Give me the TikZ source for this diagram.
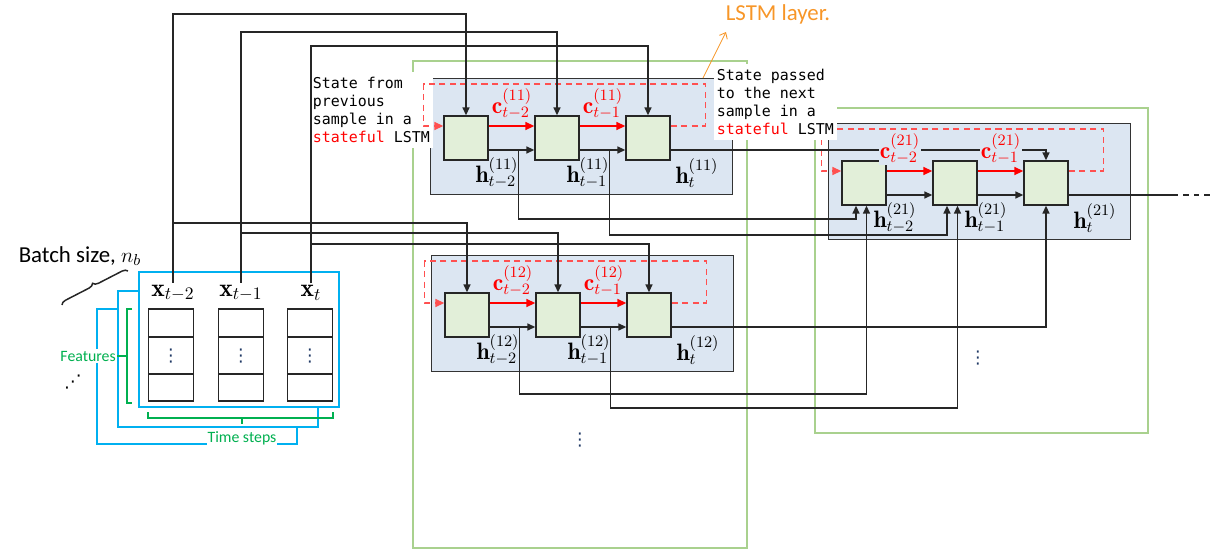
\documentclass[tikz,border=0pt]{standalone}
\usepackage{fontspec}
\setmonofont{DejaVu Sans Mono}
\newfontfamily\calib{Carlito}
\newfontfamily\symfnt{DejaVu Sans}
\usepackage{tikz}
\usetikzlibrary{arrows.meta, positioning, decorations.pathreplacing}

\definecolor{cellgreen}{RGB}{226,239,217}
\definecolor{blockblue}{RGB}{220,230,242}
\definecolor{layergreen}{RGB}{169,209,142}
\definecolor{tensorblue}{RGB}{0,176,240}
\definecolor{dimgreen}{RGB}{0,176,80}
\definecolor{statered}{RGB}{255,0,0}
\definecolor{loopred}{RGB}{255,80,80}
\definecolor{layerorange}{RGB}{247,150,40}
\definecolor{dotblue}{RGB}{31,56,100}

\tikzset{
  wire/.style={draw=black!85, line width=0.85pt},
  wirearr/.style={wire, -{Triangle[length=4.5pt,width=4pt]}},
  cstate/.style={draw=statered, line width=0.95pt, -{Triangle[length=5pt,width=4.5pt]}},
  cloop/.style={draw=loopred, line width=0.85pt, dash pattern=on 3.5pt off 2.5pt,
    -{Triangle[length=5pt,width=4.5pt]}},
  cell/.style={draw=black!85, fill=cellgreen, line width=0.85pt,
    minimum width=0.88cm, minimum height=0.88cm, inner sep=0pt},
  blockbox/.style={draw=black!80, fill=blockblue, line width=0.85pt,
    minimum width=6.04cm, minimum height=2.32cm, inner sep=0pt, anchor=north west},
  layerframe/.style={draw=layergreen, line width=0.9pt},
  tensor/.style={draw=tensorblue, line width=0.8pt},
  dimbrk/.style={draw=dimgreen, line width=0.8pt},
  dimlbl/.style={font=\calib\fontsize{9}{11}\selectfont, text=dimgreen, fill=white,
    inner xsep=0.5pt, inner ysep=1pt},
  featcol/.style={draw=black!85, line width=0.85pt, minimum width=0.9cm,
    minimum height=1.84cm, inner sep=0pt},
  statebox/.style={fill=white, align=left, anchor=west, inner xsep=1.5pt, inner ysep=2.5pt,
    font=\ttfamily\fontsize{8.5}{10.4}\selectfont},
  hlbl/.style={font=\fontsize{13.5}{15}\selectfont, inner sep=0pt},
  clbl/.style={font=\fontsize{13.5}{15}\selectfont, text=statered, fill=blockblue, inner sep=0.5pt},
  xlbl/.style={font=\fontsize{14.5}{16}\selectfont, inner sep=1pt},
  moredots/.style={font=\symfnt\fontsize{10}{12}\selectfont, text=dotblue, inner sep=0pt},
  biglbl/.style={font=\calib\fontsize{13}{15}\selectfont, inner sep=1pt}
}

\begin{document}
\begin{tikzpicture}[x=0.02cm, y=-0.02cm]
\useasboundingbox (0,0) rectangle (1215,551);
\def\blocklist{11/430/78/0, 12/431/255/0, 21/828/123/-10}

% LSTM layer frames
\draw[layerframe] (413,61) rectangle (747,548);
\draw[layerframe] (815,108) rectangle (1148,433);

% blue box of each LSTM
\foreach \nm/\bx/\by/\cs in \blocklist{
  \node[blockbox] (b\nm) at (\bx,\by) {};
}

\node[statebox] (stfrom) at (310,110)
  {State from\\previous\\sample in a\\\textcolor{statered}{stateful} LSTM};

% cells, states and stateful loop
\foreach \nm/\bx/\by/\cs in \blocklist{
  \foreach \i/\dx in {1/36, 2/127, 3/218}
    \node[cell] (b\nm c\i) at (\bx+\dx,\by+60) {};
  \draw[cstate] ([yshift=2.4mm]b\nm c1.east) -- ([yshift=2.4mm]b\nm c2.west);
  \draw[cstate] ([yshift=2.4mm]b\nm c2.east) -- ([yshift=2.4mm]b\nm c3.west);
  \draw[wirearr] ([yshift=-2.4mm]b\nm c1.east) -- ([yshift=-2.4mm]b\nm c2.west);
  \draw[wirearr] ([yshift=-2.4mm]b\nm c2.east) -- ([yshift=-2.4mm]b\nm c3.west);
  \draw[cloop] ([yshift=2.4mm]b\nm c3.east) -- ++(35,0) -- ++(0,-42) -- ++(-282,0)
    -- ++(0,42) -- ([yshift=2.4mm]b\nm c1.west);
  \node[hlbl] (h\nm a) at (\bx+67,\by+95) {$\mathbf{h}^{(\nm)}_{t-2}$};
  \node[hlbl] (h\nm b) at (\bx+158,\by+95) {$\mathbf{h}^{(\nm)}_{t-1}$};
  \node[hlbl] (h\nm c) at (\bx+267,\by+95) {$\mathbf{h}^{(\nm)}_{t}$};
}

\node[statebox] (stpass) at (714,102)
  {State passed\\to the next\\sample in a\\\textcolor{statered}{stateful} LSTM};

% input batch
\draw[tensor] (118,309) -- (97,309) -- (97,444) -- (297,444) -- (297,427);
\draw[tensor] (139,291) -- (118,291) -- (118,427) -- (318,427) -- (318,407);
\draw[tensor] (139,272) rectangle (339,407);
\node[dimlbl, anchor=east] (feat) at (117,356) {Features};
\node[dimlbl] (tsteps) at (242,438.5) {Time steps};
\draw[dimbrk] (132,309) -- (127,309) -- (127,403) -- (132,403);
\draw[dimbrk] (feat.east) -- (127,356);
\draw[dimbrk] (148,412) -- (148,418) -- (333,418) -- (333,412);
\draw[dimbrk] (242,418) -- (242,424);
\foreach \nm/\cx in {tm2/171, tm1/241, t0/310}{
  \node[featcol] (col\nm) at (\cx,355) {};
  \draw[wire] (col\nm.west |- 0,337) -- (col\nm.east |- 0,337);
  \draw[wire] (col\nm.west |- 0,374) -- (col\nm.east |- 0,374);
  \node[moredots] (vd\nm) at (\cx,356) {⋮};
}
\node[xlbl] (xtm2) at (173,293) {$\mathbf{x}_{t-2}$};
\node[xlbl] (xtm1) at (241,293) {$\mathbf{x}_{t-1}$};
\node[xlbl] (xt0) at (311,293) {$\mathbf{x}_{t}$};

% inputs to the first layer
\draw[wirearr] (xtm2.north) -- (xtm2.north |- 0,14) -| (b11c1.north);
\draw[wirearr] (xtm1.north) -- (xtm1.north |- 0,32) -| (b11c2.north);
\draw[wirearr] (xt0.north) -- (xt0.north |- 0,46) -| (b11c3.north);
\draw[wirearr] (xtm2.north |- 0,223) -| (b12c1.north);
\draw[wirearr] (xtm1.north |- 0,233) -| (b12c2.north);
\draw[wirearr] (xt0.north |- 0,244) -| (b12c3.north);

% hidden states to the second layer
\path ([yshift=-2.4mm]b11c1.east) ++(30,0) coordinate (s11a);
\path ([yshift=-2.4mm]b11c2.east) ++(30,0) coordinate (s11b);
\path ([yshift=-2.4mm]b12c1.east) ++(30,0) coordinate (s12a);
\path ([yshift=-2.4mm]b12c2.east) ++(30,0) coordinate (s12b);
\draw[wirearr] (s11a) -- (s11a |- 0,219) -| ([xshift=-1.6mm]b21c1.south);
\draw[wirearr] (s11b) -- (s11b |- 0,235) -| ([xshift=-1.6mm]b21c2.south);
\draw[wirearr] (s12a) -- (s12a |- 0,394) -| ([xshift=0.5mm]b21c1.south);
\draw[wirearr] (s12b) -- (s12b |- 0,408) -| ([xshift=0.5mm]b21c2.south);
\draw[wirearr] ([yshift=-2.4mm]b12c3.east) -| (b21c3.south);
\draw[wirearr] ([yshift=-2.4mm]b11c3.east) -| (b21c3.north);
\draw[wire] ([yshift=-2.4mm]b21c3.east) -- ++(104,0) coordinate (out21);
\draw[wire, dash pattern=on 3pt off 3pt] (out21) -- ++(42,0);

% cell state labels
\foreach \nm/\bx/\by/\cs in \blocklist{
  \node[clbl] (c\nm a) at (\bx+82+\cs,\by+26) {$\mathbf{c}^{(\nm)}_{t-2}$};
  \node[clbl] (c\nm b) at (\bx+173,\by+26) {$\mathbf{c}^{(\nm)}_{t-1}$};
}

% more samples and layers
\node[moredots] (vdb1) at (580,440) {⋮};
\node[moredots] (vdb2) at (978,358) {⋮};
\node[moredots, text=black] (ddots) at (73,382) {⋰};

% batch size
\node[biglbl] (batch) at (80,256) {Batch size, $n_b$};
\coordinate (brA) at (62,305);
\coordinate (brB) at (128,271);
\draw[wire, decorate, decoration={brace, amplitude=3pt}] (brA) -- (brB);

% layer label
\node[biglbl, text=layerorange] (lyrlbl) at (778,14) {LSTM layer.};
\coordinate (lyrfoot) at (703,78);
\coordinate (lyrtip) at (726,32);
\draw[layerorange, line width=0.5pt, -{Straight Barb[length=3pt,width=5pt]}] (lyrfoot) -- (lyrtip);
\end{tikzpicture}
\end{document}
